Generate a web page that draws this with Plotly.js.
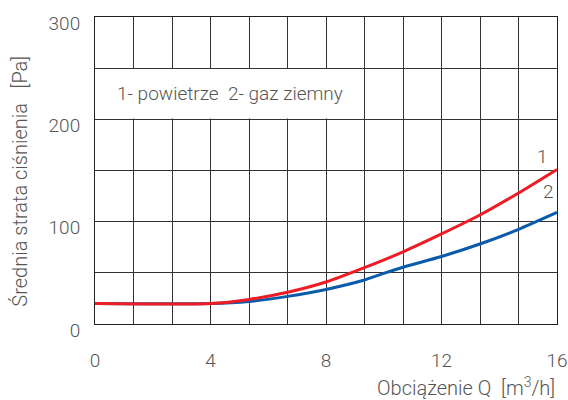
<!DOCTYPE html>
<html>
<head>
<meta charset="utf-8">
<script src="https://cdn.plot.ly/plotly-3.0.1.min.js"></script>
<style>html,body{margin:0;padding:0;background:#fff;}#chart{width:568px;height:400px;}</style>
</head>
<body>
<div id="chart"></div>
<script>
// Data
const xRed = [0, 4, 5.33, 6.67, 8, 9.33, 10.67, 12, 13.33, 14.67, 16];
const yRed = [20, 20, 24, 31, 41, 55, 70.5, 88, 106.5, 128, 151];
const xBlue = [0, 4, 5.33, 6.67, 8, 9.33, 10, 10.67, 12, 13.33, 14.67, 16];
const yBlue = [20, 20, 22, 27, 33.8, 43, 49.5, 55.5, 66, 78.2, 92.5, 109];
const xTickVals = [0, 4, 8, 12, 16];
const yTickVals = [0, 100, 200, 300];
const legendText = "1- powietrze  2- gaz ziemny";
const xTitle = "Obciążenie Q  [m<sup>3</sup>/h]";
const yTitle = "Średnia strata ciśnienia   [Pa]";

const FONT = "Roboto, 'Liberation Sans', sans-serif";
const TXT = "#555";
const f = (s) => ({family: FONT, size: s, color: TXT, weight: 300});

const traces = [
  {x: xBlue, y: yBlue, mode: "lines", line: {color: "#0a5cab", width: 3, shape: "spline", smoothing: 0.6}, hoverinfo: "skip"},
  {x: xRed, y: yRed, mode: "lines", line: {color: "#ee1c25", width: 3, shape: "spline", smoothing: 0.6}, hoverinfo: "skip"}
];

const layout = {
  width: 568, height: 400,
  margin: {l: 95, r: 11, t: 17, b: 76},
  paper_bgcolor: "#fff", plot_bgcolor: "#fff",
  showlegend: false,
  font: f(19),
  xaxis: {
    range: [0, 16], tickvals: xTickVals, ticktext: xTickVals.map(String),
    showgrid: true, gridcolor: "#333", gridwidth: 1,
    minor: {dtick: 4/3, tick0: 0, showgrid: true, gridcolor: "#333", gridwidth: 1},
    showline: true, linecolor: "#222", linewidth: 1, mirror: true,
    zeroline: false, ticks: "", ticklabelstandoff: 19,
    tickfont: f(19)
  },
  yaxis: {
    range: [0, 300], tickvals: yTickVals, ticktext: yTickVals.map(String),
    showgrid: true, gridcolor: "#333", gridwidth: 1,
    minor: {dtick: 50, tick0: 0, showgrid: true, gridcolor: "#333", gridwidth: 1},
    showline: true, linecolor: "#222", linewidth: 1, mirror: true,
    zeroline: false, ticks: "", ticklabelstandoff: 10, ticklabelshift: 6,
    tickfont: f(19)
  },
  shapes: [
    {type: "rect", xref: "x", yref: "y", x0: 0.04, x1: 9.3, y0: 200.8, y1: 249.2,
     fillcolor: "#fff", line: {width: 0}, layer: "between"}
  ],
  annotations: [
    {xref: "x", yref: "y", x: 0.68, y: 225, xanchor: "left", yanchor: "middle", text: legendText, showarrow: false, font: f(19)},
    {xref: "x", yref: "y", x: 15.5, y: 164, text: "1", showarrow: false, font: f(19)},
    {xref: "x", yref: "y", x: 15.7, y: 129, text: "2", showarrow: false, font: f(19)},
    {xref: "paper", yref: "paper", x: 1, y: -0.205, xanchor: "right", yanchor: "middle", text: xTitle, showarrow: false, font: f(20)},
    {xref: "paper", yref: "paper", x: -0.163, y: 0.466, xanchor: "center", yanchor: "middle", textangle: -90, text: yTitle, showarrow: false, font: f(20)}
  ]
};

Plotly.newPlot("chart", traces, layout, {staticPlot: true, displayModeBar: false});
</script>
</body>
</html>
